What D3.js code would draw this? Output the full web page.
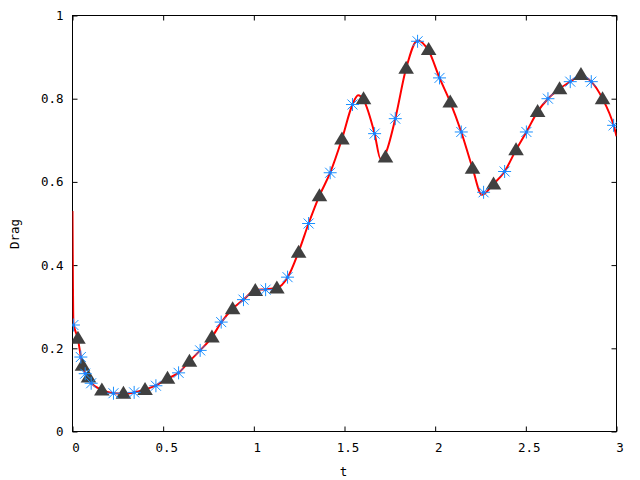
<!DOCTYPE html>
<html><head><meta charset="utf-8">
<script src="https://cdn.jsdelivr.net/npm/d3@7"></script>
<style>html,body{margin:0;padding:0;background:#fff;}svg{display:block;}</style>
</head><body>
<svg id="c" width="640" height="480"></svg>
<script>
// Smooth curve (red line)
const curveT = [0,0.002,0.005,0.03,0.046,0.055,0.07,0.088,0.103,0.162,0.226,0.281,0.34,0.40,0.46,0.524,0.585,0.645,0.704,0.769,0.82,0.883,0.943,1.008,1.065,1.127,1.186,1.247,1.302,1.362,1.421,1.486,1.544,1.575,1.605,1.666,1.699,1.726,1.78,1.84,1.903,1.964,2.024,2.083,2.144,2.206,2.258,2.322,2.383,2.446,2.503,2.565,2.622,2.686,2.745,2.80,2.861,2.923,2.984,3.0];
const curveV = [0.53,0.38,0.262,0.222,0.18,0.16,0.14,0.13,0.117,0.1,0.092,0.091,0.094,0.101,0.111,0.127,0.141,0.169,0.195,0.227,0.262,0.295,0.317,0.34,0.342,0.345,0.37,0.432,0.50,0.567,0.622,0.703,0.786,0.808,0.797,0.716,0.655,0.668,0.752,0.873,0.94,0.915,0.85,0.792,0.72,0.633,0.569,0.595,0.625,0.677,0.72,0.769,0.80,0.824,0.841,0.855,0.841,0.80,0.736,0.71];
// Asterisk markers
const starT = [0.005,0.046,0.07,0.103,0.226,0.34,0.46,0.585,0.704,0.82,0.943,1.065,1.186,1.302,1.421,1.544,1.666,1.78,1.903,2.024,2.144,2.267,2.383,2.503,2.622,2.745,2.861,2.984];
const starV = [0.256,0.179,0.139,0.116,0.092,0.094,0.11,0.141,0.195,0.263,0.317,0.341,0.371,0.50,0.622,0.786,0.716,0.752,0.938,0.85,0.72,0.575,0.625,0.72,0.80,0.841,0.841,0.736];
// Triangle markers
const triT = [0.03,0.055,0.088,0.162,0.281,0.40,0.524,0.645,0.769,0.883,1.008,1.127,1.247,1.362,1.486,1.605,1.726,1.84,1.964,2.083,2.206,2.322,2.446,2.565,2.686,2.804,2.923];
const triV = [0.224,0.159,0.131,0.10,0.092,0.101,0.128,0.169,0.227,0.295,0.339,0.345,0.431,0.567,0.703,0.80,0.66,0.873,0.918,0.792,0.633,0.595,0.677,0.769,0.824,0.858,0.80];
const xTicks = [0,0.5,1,1.5,2,2.5,3];
const yTicks = [0,0.2,0.4,0.6,0.8,1];
const xTickLabels = ["0","0.5","1","1.5","2","2.5","3"];
const yTickLabels = ["0","0.2","0.4","0.6","0.8","1"];
const xLabel = "t", yLabel = "Drag";

const svg = d3.select("#c");
const L = 72.5, R = 616.5, T = 15.5, B = 431.5;
const x = d3.scaleLinear().domain([0,3]).range([L,R]);
const y = d3.scaleLinear().domain([0,1]).range([B,T]);
const font = "'DejaVu Sans Mono', monospace";

const clipId = "pc";
svg.append("clipPath").attr("id",clipId).append("rect").attr("x",L).attr("y",T).attr("width",R-L).attr("height",B-T);

const tl = 5;
const axB = d3.axisBottom(x).tickValues(xTicks).tickSize(-tl).tickFormat((d,i)=>xTickLabels[i]).tickPadding(12);
const axT = d3.axisTop(x).tickValues(xTicks).tickSize(-tl).tickFormat("");
const axL = d3.axisLeft(y).tickValues(yTicks).tickSize(-tl).tickFormat((d,i)=>yTickLabels[i]).tickPadding(9);
const axR = d3.axisRight(y).tickValues(yTicks).tickSize(-tl).tickFormat("");
function styleAx(g){
  g.select(".domain").remove();
  g.selectAll(".tick line").attr("stroke","#000").attr("stroke-width",1);
  g.selectAll(".tick text").attr("fill","#000").style("font-family",font).style("font-size","12.5px");
}
svg.append("g").attr("transform",`translate(0,${B})`).call(axB).call(styleAx)
  .selectAll(".tick text").attr("dx",3);
svg.append("g").attr("transform",`translate(0,${T})`).call(axT).call(styleAx);
svg.append("g").attr("transform",`translate(${L},0)`).call(axL).call(styleAx);
svg.append("g").attr("transform",`translate(${R},0)`).call(axR).call(styleAx);

svg.append("rect").attr("x",L).attr("y",T).attr("width",R-L).attr("height",B-T)
  .attr("fill","none").attr("stroke","#000").attr("stroke-width",1);

const plot = svg.append("g").attr("clip-path",`url(#${clipId})`);
const curvePts = curveT.map((t,i)=>[t,curveV[i]]);
plot.append("path").datum(curvePts)
  .attr("d", d3.line().x(d=>x(d[0])).y(d=>y(d[1])).curve(d3.curveMonotoneX))
  .attr("fill","none").attr("stroke","#ff0000").attr("stroke-width",2);

const triPts = triT.map((t,i)=>[t,triV[i]]);
plot.selectAll(".tri").data(triPts).enter().append("path")
  .attr("transform",d=>`translate(${x(d[0])},${y(d[1])})`)
  .attr("d","M0,-7.5L7.8,5.5L-7.8,5.5Z")
  .attr("fill","#404040");

const starPts = starT.map((t,i)=>[t,starV[i]]);
const sg = plot.selectAll(".star").data(starPts).enter().append("g")
  .attr("transform",d=>`translate(${x(d[0])},${y(d[1])})`);
sg.append("path").attr("d","M-6.5,0H6.5M0,-6.5V6.5M-5,-5L5,5M-5,5L5,-5")
  .attr("stroke","#1a90ff").attr("stroke-width",1).attr("fill","none");
sg.append("circle").attr("r",1.6).attr("fill","#1a80ff");

svg.append("text").attr("x",343.5).attr("y",476).attr("text-anchor","middle")
  .style("font-family",font).style("font-size","12.5px").text(xLabel);
svg.append("text").attr("transform","translate(19,234) rotate(-90)").attr("text-anchor","middle")
  .style("font-family",font).style("font-size","12.5px").text(yLabel);
</script>
</body></html>
